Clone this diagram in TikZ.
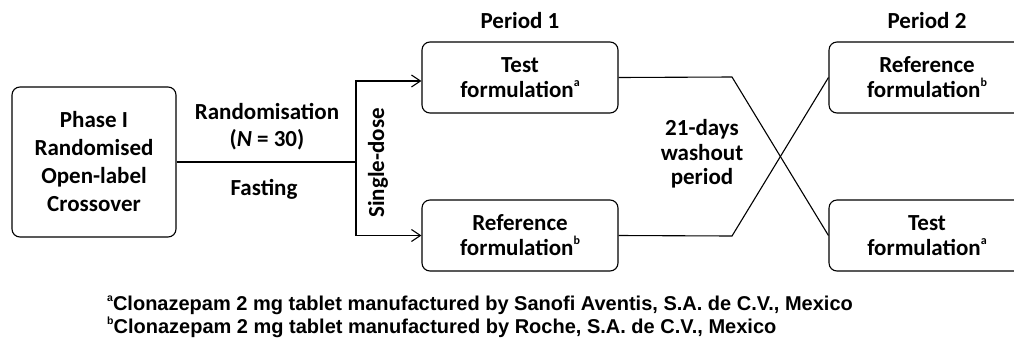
\documentclass[tikz,border=0pt]{standalone}
\usepackage{fontspec}
\setmainfont{Carlito}
\newfontfamily\notefont{Liberation Sans}
\usetikzlibrary{arrows.meta}
\newcommand\supmark[1]{\raisebox{0.48em}{\fontsize{12}{12}\selectfont #1}}
\newcommand\notemark[1]{\raisebox{0.45em}{\fontsize{10.5}{10.5}\selectfont #1}}
\begin{document}
\begin{tikzpicture}[x=1pt,y=-1pt,
  box/.style={draw, line width=1.1pt, rounded corners=8pt, align=center, inner sep=0pt,
    font=\fontsize{23}{25}\selectfont\bfseries},
  lbl/.style={align=center, font=\fontsize{23}{27}\selectfont\bfseries, inner sep=0pt},
  conn/.style={line width=1.1pt},
  arr/.style={conn, -{Straight Barb[length=9pt,width=12pt,line width=1.1pt]}},
  note/.style={anchor=west, inner sep=0pt, font=\notefont\bfseries\fontsize{20}{22}\selectfont}]
\useasboundingbox (0,0) rectangle (1014,338);
\clip (0,0) rectangle (1014,338);
\node[box, minimum width=164pt, minimum height=150pt, font=\fontsize{23}{28}\selectfont\bfseries] (phase) at (94,162) {Phase I\\Randomised\\Open-label\\Crossover};
\node[box, minimum width=196pt, minimum height=71pt] (t1) at (520,77.5) {Test\\formulation\supmark{a}};
\node[box, minimum width=196pt, minimum height=71pt] (r1) at (520,235.5) {Reference\\formulation\supmark{b}};
\node[box, minimum width=196pt, minimum height=71pt] (r2) at (927,77.5) {Reference\\formulation\supmark{b}};
\node[box, minimum width=196pt, minimum height=71pt] (t2) at (927,235.5) {Test\\formulation\supmark{a}};
\node[lbl] (p1) at (520,21) {Period 1};
\node[lbl] (p2) at (927,21) {Period 2};
\node[lbl] (rand) at (267,127) {Randomisation\\(\textit{N} = 30)};
\node[lbl] (fast) at (264,189) {Fasting};
\node[lbl, rotate=90] (single) at (378,163) {Single-dose};
\node[lbl, font=\fontsize{23}{24.5}\selectfont\bfseries] (wash) at (702,154) {21-days\\washout\\period};
\coordinate (split) at (356,162);
\coordinate (c1) at (732,77);
\coordinate (c2) at (732,236);
\draw[conn] (phase.east) -- (split);
\draw[arr] (split) |- ([yshift=-3.5pt]t1.west);
\draw[arr] (split) |- (r1.west);
\draw[conn] (t1.east) -- (c1) -- (t2.west);
\draw[conn] (r1.east) -- (c2) -- (r2.west);
\node[note] (n1) at (107,305) {\notemark{a}Clonazepam 2 mg tablet manufactured by Sanofi Aventis, S.A. de C.V., Mexico};
\node[note] (n2) at (107,327) {\notemark{b}Clonazepam 2 mg tablet manufactured by Roche, S.A. de C.V., Mexico};
\end{tikzpicture}
\end{document}
